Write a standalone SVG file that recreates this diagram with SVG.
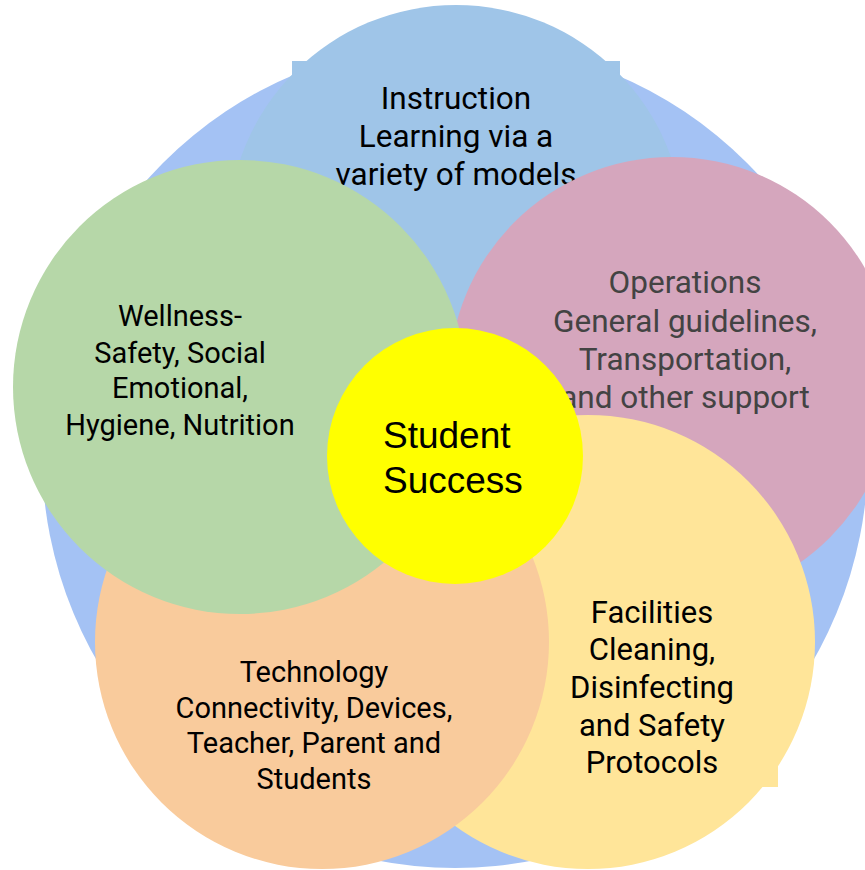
<svg xmlns="http://www.w3.org/2000/svg" width="865" height="870" viewBox="0 0 865 870">
<style>
.t{font-family:Roboto,"Liberation Sans",sans-serif;fill:#000;text-anchor:middle}
.g{fill:#434343}
.ss{font-family:"Liberation Sans",Arial,sans-serif;font-size:37px;fill:#000}
</style>
<rect width="865" height="870" fill="#ffffff"/>
<g id="outer">
<circle cx="455" cy="455" r="413" fill="#a4c2f4"/>
</g>
<g id="instruction">
<rect x="292" y="61" width="328" height="100" fill="#9fc5e8"/>
<circle cx="456" cy="233" r="228" fill="#9fc5e8"/>
<text class="t" font-size="31.5" x="456" y="109">Instruction</text>
<text class="t" font-size="31.5" x="456" y="147">Learning via a</text>
<text class="t" font-size="31.5" x="456" y="185">variety of models</text>
</g>
<g id="operations">
<circle cx="672" cy="380" r="223" fill="#d5a6bd"/>
<text class="t g" font-size="31.5" x="685" y="293">Operations</text>
<text class="t g" font-size="31.5" x="685" y="332">General guidelines,</text>
<text class="t g" font-size="31.5" x="685" y="370">Transportation,</text>
<text class="t g" font-size="31.5" x="685" y="408">and other support</text>
</g>
<g id="facilities">
<rect x="526" y="590" width="252" height="197" fill="#ffe599"/>
<circle cx="588" cy="642" r="227" fill="#ffe599"/>
<text class="t" font-size="31" x="652" y="623">Facilities</text>
<text class="t" font-size="31" x="652" y="660">Cleaning,</text>
<text class="t" font-size="31" x="652" y="698">Disinfecting</text>
<text class="t" font-size="31" x="652" y="736">and Safety</text>
<text class="t" font-size="31" x="652" y="773">Protocols</text>
</g>
<g id="technology">
<circle cx="322" cy="642" r="227" fill="#f9cb9c"/>
<text class="t" font-size="29" x="314" y="682">Technology</text>
<text class="t" font-size="29" x="314" y="718">Connectivity, Devices,</text>
<text class="t" font-size="29" x="314" y="753">Teacher, Parent and</text>
<text class="t" font-size="29" x="314" y="789">Students</text>
</g>
<g id="wellness">
<circle cx="240" cy="387" r="227" fill="#b6d7a8"/>
<text class="t" font-size="29" x="180" y="326">Wellness-</text>
<text class="t" font-size="29" x="180" y="363">Safety, Social</text>
<text class="t" font-size="29" x="180" y="398">Emotional,</text>
<text class="t" font-size="29" x="180" y="435">Hygiene, Nutrition</text>
</g>
<g id="student-success">
<circle cx="455" cy="456" r="128" fill="#ffff00"/>
<text class="ss" x="383" y="448">Student</text>
<text class="ss" x="383" y="493">Success</text>
</g>
<g id="connectors"/>
</svg>
